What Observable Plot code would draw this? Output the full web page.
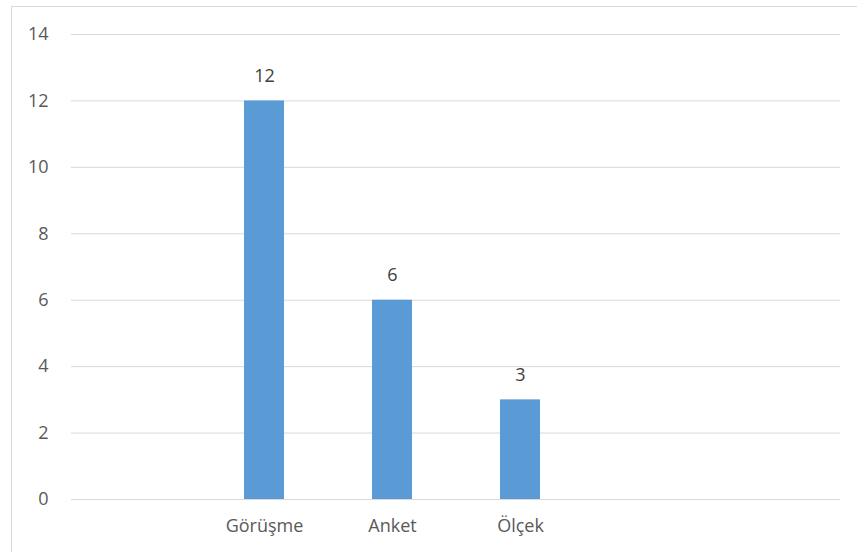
<!DOCTYPE html>
<html>
<head>
<meta charset="utf-8">
<script src="https://cdn.jsdelivr.net/npm/d3@7"></script>
<script src="https://cdn.jsdelivr.net/npm/@observablehq/plot@0.6"></script>
<style>
  html, body { margin: 0; padding: 0; background: #fff; overflow: hidden; }
  #wrap { position: relative; width: 857px; height: 552px; }
  #frame { position: absolute; left: 11px; top: 6px; width: 900px; height: 600px; border: 1px solid #D9D9D9; box-sizing: border-box; }
  #chart { position: absolute; left: 0; top: 0; }
</style>
</head>
<body>
<div id="wrap"><div id="frame"></div><div id="chart"></div></div>
<script>
const categories = ["Görüşme", "Anket", "Ölçek"];
const values = [12, 6, 3];
const slots = ["_a", "Görüşme", "Anket", "Ölçek", "_b", "_c"];
const yTicks = [0, 2, 4, 6, 8, 10, 12, 14];

const data = categories.map((c, i) => ({category: c, value: values[i]}));
const font = "'Open Sans', sans-serif";

const chart = Plot.plot({
  width: 857,
  height: 552,
  marginLeft: 71,
  marginRight: 17,
  marginTop: 34,
  marginBottom: 53,
  style: {fontFamily: font, fontSize: "18px", color: "#595959", background: "transparent"},
  x: {domain: slots, paddingInner: 0.6875, paddingOuter: 0.34375, label: null, tickSize: 0, tickPadding: 20,
      tickFormat: d => categories.includes(d) ? d : ""},
  y: {domain: [0, 14], ticks: yTicks, label: null, tickSize: 0, tickPadding: 23},
  marks: [
    Plot.gridY(yTicks, {stroke: "#D9D9D9", strokeOpacity: 1, strokeWidth: 1}),
    Plot.barY(data, {x: "category", y: "value", fill: "#5B9BD5"}),
    Plot.ruleY([0], {stroke: "#D9D9D9", strokeWidth: 1}),
    Plot.text(data, {x: "category", y: "value", text: d => String(d.value), dy: -25, fill: "#404040", fontSize: 18})
  ]
});
document.getElementById("chart").appendChild(chart);
</script>
</body>
</html>
